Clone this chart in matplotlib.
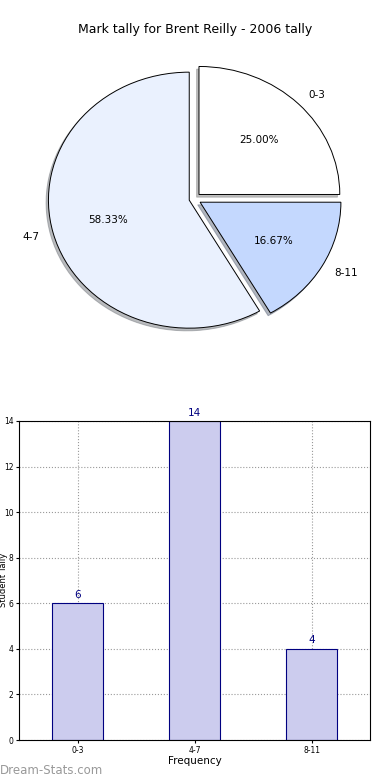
"""
Pie and bar chart of the mark tally for one student
"""

import matplotlib
matplotlib.use('Agg')
import matplotlib.pyplot as plt

categories = ['0-3', '4-7', '8-11']
tallies = [6, 14, 4]
pie_colors = ['#ffffff', '#eaf1fe', '#c4d8fe']
# data

fig = plt.figure(figsize=(3.9, 7.8), dpi=100)

# pie chart on top, stretched like the original (no equal aspect)
ax1 = fig.add_axes([18 / 390, 1 - 359 / 780, 352 / 390, 320 / 780])
ax1.pie(tallies, labels=categories, colors=pie_colors, explode=[0.05, 0.035, 0.05],
        autopct='%1.2f%%', startangle=0, counterclock=True,
        shadow={'ox': -0.012, 'oy': -0.015, 'shade': 0.5},
        wedgeprops={'edgecolor': 'black', 'linewidth': 0.7},
        textprops={'fontsize': 7.5})
ax1.set_aspect('auto')
ax1.set_xlim(-1.25, 1.25)
ax1.set_ylim(-1.25, 1.25)
ax1.axis('off')
fig.text(0.5, 1 - 30 / 780, 'Mark tally for Brent Reilly - 2006 tally',
         ha='center', va='center', fontsize=9)

# bar chart below
ax2 = fig.add_axes([19 / 390, 40 / 780, 351 / 390, 319 / 780])
xs = list(range(len(categories)))
ax2.bar(xs, tallies, width=0.44, color='#ccccee', edgecolor='#000080',
        linewidth=0.8, zorder=2)
for x, v in zip(xs, tallies):
    ax2.text(x, v + 0.15, str(v), ha='center', va='bottom', color='#000080',
             fontsize=7.5)
ax2.set_xlim(-0.5, 2.5)
ax2.set_ylim(0, 14)
ax2.set_xticks(xs)
ax2.set_xticklabels(categories)
ax2.tick_params(labelsize=5.5, length=2, pad=2)
ax2.grid(True, linestyle=':', color='#999999', linewidth=0.8, zorder=0)
ax2.set_axisbelow(True)
ax2.set_xlabel('Frequency', fontsize=7.5, labelpad=1)
fig.text(4 / 390, 1 - 580 / 780, 'Student Tally', rotation=90,
         ha='center', va='center', fontsize=6)

fig.text(0.0, 1 - 771 / 780, 'Dream-Stats.com', ha='left', va='center',
         fontsize=8.5, color='#999999')

plt.savefig('out.png', dpi=100)
